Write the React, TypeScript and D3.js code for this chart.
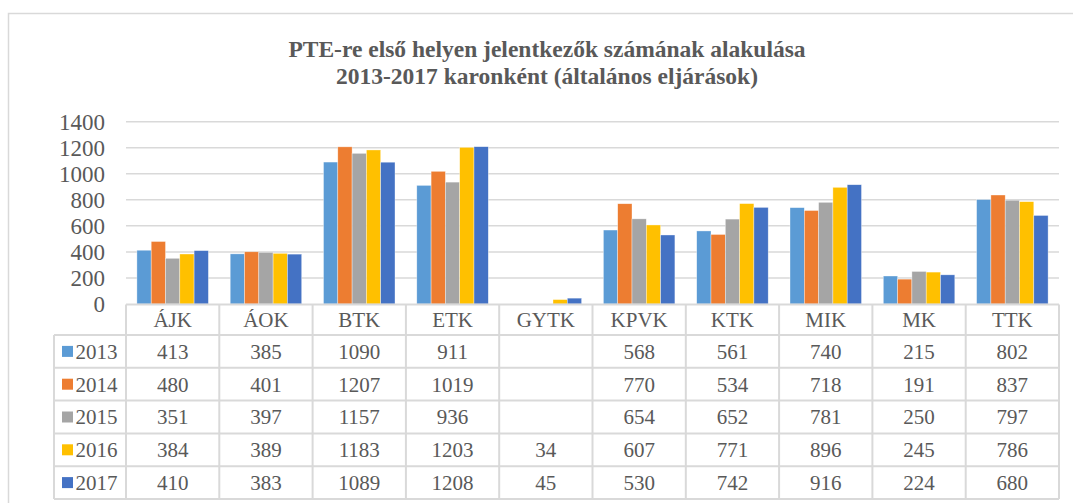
import React, { useEffect, useRef } from "react";
import * as d3 from "d3";

// categories (faculties) and yearly series
const faculties = ["ÁJK", "ÁOK", "BTK", "ETK", "GYTK", "KPVK", "KTK", "MIK", "MK", "TTK"];
const years = ["2013", "2014", "2015", "2016", "2017"];
const v2013 = [413, 385, 1090, 911, null, 568, 561, 740, 215, 802];
const v2014 = [480, 401, 1207, 1019, null, 770, 534, 718, 191, 837];
const v2015 = [351, 397, 1157, 936, null, 654, 652, 781, 250, 797];
const v2016 = [384, 389, 1183, 1203, 34, 607, 771, 896, 245, 786];
const v2017 = [410, 383, 1089, 1208, 45, 530, 742, 916, 224, 680];
const yTicks = [0, 200, 400, 600, 800, 1000, 1200, 1400];
const colors = ["#5B9BD5", "#ED7D31", "#A5A5A5", "#FFC000", "#4472C4"];
const titleLines = [
  "PTE-re első helyen jelentkezők számának alakulása",
  "2013-2017 karonként (általános eljárások)",
];

const series = [v2013, v2014, v2015, v2016, v2017];

const App: React.FC = () => {
  const svgRef = useRef(null);

  const width = 1073;
  const height = 503;
  const plot = { left: 126, right: 1059, top: 121.7, bottom: 304 };
  const table = { left: 54, headerTop: 304.5, headerBottom: 335, bottom: 499 };
  const textColor = "#595959";
  const lineColor = "#D9D9D9";
  const font = '"Liberation Serif", Tinos, "Times New Roman", "DejaVu Serif", serif';

  useEffect(() => {
    const svg = d3.select(svgRef.current);
    svg.selectAll("*").remove();

    // scales
    const x0 = d3.scaleBand<string>().domain(faculties).range([plot.left, plot.right]);
    const gap = 10.9;
    const x1 = d3
      .scaleBand<string>()
      .domain(years)
      .range([gap, x0.bandwidth() - gap]);
    const y = d3.scaleLinear().domain([0, 1400]).range([plot.bottom, plot.top]);
    const rowY = d3
      .scaleBand<string>()
      .domain(years)
      .range([table.headerBottom, table.bottom]);

    // outer frame
    svg
      .append("rect")
      .attr("x", 8.5)
      .attr("y", 13.5)
      .attr("width", width)
      .attr("height", height)
      .attr("fill", "none")
      .attr("stroke", lineColor)
      .attr("stroke-width", 1.5);

    // title
    svg
      .append("g")
      .selectAll("text")
      .data(titleLines)
      .enter()
      .append("text")
      .attr("x", 547)
      .attr("y", (d, i) => 57 + i * 26.7)
      .attr("text-anchor", "middle")
      .style("font-family", font)
      .attr("font-weight", "bold")
      .attr("font-size", 23.5)
      .attr("fill", textColor)
      .text(d => d);

    // gridlines
    svg
      .append("g")
      .selectAll("line")
      .data(yTicks.filter(t => t > 0))
      .enter()
      .append("line")
      .attr("x1", plot.left)
      .attr("x2", plot.right)
      .attr("y1", d => y(d))
      .attr("y2", d => y(d))
      .attr("stroke", lineColor)
      .attr("stroke-width", 1.5);

    // y axis labels
    const yAxis = d3
      .axisLeft(y)
      .tickValues(yTicks)
      .tickSize(0)
      .tickPadding(0)
      .tickFormat(d => String(d));
    const yg = svg
      .append("g")
      .attr("transform", `translate(105, 0)`)
      .call(yAxis as any);
    yg.select(".domain").remove();
    yg.attr("font-family", null);
    yg.selectAll("text")
      .style("font-family", font)
      .attr("font-size", 23)
      .attr("fill", textColor);

    // bars
    const groups = svg
      .append("g")
      .selectAll("g")
      .data(series)
      .enter()
      .append("g")
      .attr("fill", (d, i) => colors[i]);
    groups.each(function (vals, si) {
      d3.select(this)
        .selectAll("rect")
        .data(vals.map((v, ci) => ({ v, c: faculties[ci] })).filter(d => d.v !== null))
        .enter()
        .append("rect")
        .attr("x", d => (x0(d.c) as number) + (x1(years[si]) as number))
        .attr("width", x1.bandwidth())
        .attr("y", d => y(d.v as number))
        .attr("height", d => plot.bottom - y(d.v as number))
        .attr("stroke", "#ffffff")
        .attr("stroke-opacity", 0.6)
        .attr("stroke-width", 0.6);
    });

    // data table lines
    const tg = svg.append("g").attr("stroke", lineColor).attr("stroke-width", 2);
    tg.append("line")
      .attr("x1", plot.left)
      .attr("x2", plot.right)
      .attr("y1", table.headerTop)
      .attr("y2", table.headerTop);
    const hLines = [table.headerBottom, ...years.map(yr => (rowY(yr) as number) + rowY.bandwidth())];
    tg.selectAll(".h")
      .data(hLines)
      .enter()
      .append("line")
      .attr("x1", table.left)
      .attr("x2", plot.right)
      .attr("y1", d => d)
      .attr("y2", d => d);
    const vLines = [...faculties.map(f => x0(f) as number), plot.right];
    tg.selectAll(".v")
      .data(vLines)
      .enter()
      .append("line")
      .attr("x1", d => d)
      .attr("x2", d => d)
      .attr("y1", table.headerTop)
      .attr("y2", table.bottom);
    tg.append("line")
      .attr("x1", table.left)
      .attr("x2", table.left)
      .attr("y1", table.headerBottom)
      .attr("y2", table.bottom);

    // header labels
    svg
      .append("g")
      .selectAll("text")
      .data(faculties)
      .enter()
      .append("text")
      .attr("x", d => (x0(d) as number) + x0.bandwidth() / 2)
      .attr("y", (table.headerTop + table.headerBottom) / 2)
      .attr("dy", "0.35em")
      .attr("text-anchor", "middle")
      .style("font-family", font)
      .attr("font-size", 21)
      .attr("fill", textColor)
      .text(d => d);

    // legend cells + values
    years.forEach((yr, si) => {
      const cy = (rowY(yr) as number) + rowY.bandwidth() / 2;
      const row = svg.append("g");
      row
        .append("rect")
        .attr("x", 62)
        .attr("y", cy - 5.5)
        .attr("width", 11)
        .attr("height", 11)
        .attr("fill", colors[si]);
      row
        .append("text")
        .attr("x", 75.5)
        .attr("y", cy)
        .attr("dy", "0.35em")
        .style("font-family", font)
        .attr("font-size", 21)
        .attr("fill", textColor)
        .text(yr);
      row
        .selectAll(".val")
        .data(series[si].map((v, ci) => ({ v, c: faculties[ci] })).filter(d => d.v !== null))
        .enter()
        .append("text")
        .attr("x", d => (x0(d.c) as number) + x0.bandwidth() / 2)
        .attr("y", cy)
        .attr("dy", "0.35em")
        .attr("text-anchor", "middle")
        .style("font-family", font)
        .attr("font-size", 21)
        .attr("fill", textColor)
        .text(d => String(d.v));
    });
  }, []);

  return (
    <svg
      ref={svgRef}
      width={width}
      height={height}
      viewBox={`0 0 ${width} ${height}`}
      style={{ position: "absolute", left: 0, top: 0, background: "#ffffff" }}
    />
  );
};

export default App;
